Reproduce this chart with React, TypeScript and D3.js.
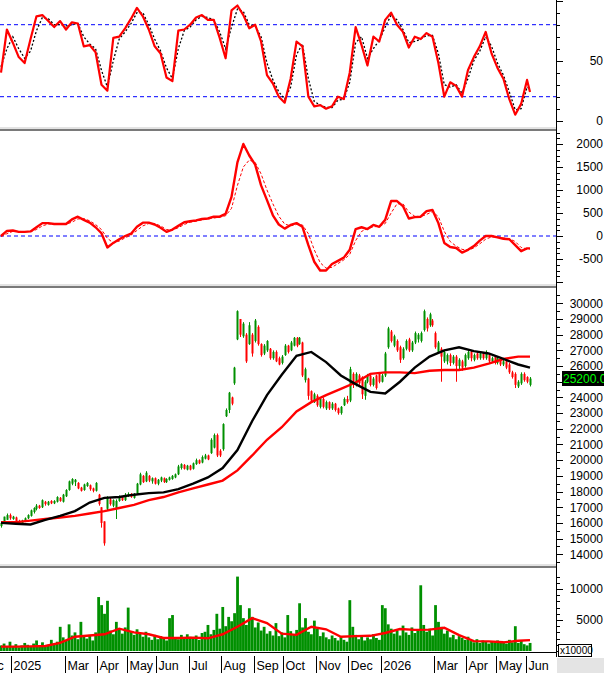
import * as d3 from 'd3'
import React from 'react'

// daily bars (every bar ~ 2 sessions), Dec 2024 .. Jun 2026
const opens = [
  15800, 16050, 16200, 16500, 16250, 16350, 16100, 15950, 16100, 16300,
  16450, 16700, 16900, 17100, 17000, 17350, 17150, 17400, 17250, 17350,
  17600, 17350, 17700, 18100, 18500, 18600, 18550, 18250, 18100, 18350,
  18400, 18200, 18050, 17800, 17000, 16100, 16900, 17500, 17100, 16900,
  17400, 17650, 17450, 17700, 17850, 17600, 17900, 18450, 19000, 18650,
  19000, 18650, 18850, 18500, 18700, 18850, 18600, 18750, 18800, 18900,
  19100, 19500, 19700, 19400, 19650, 19450, 19750, 20000, 19850, 20100,
  20300, 20450, 20800, 21600, 20600, 20700, 22800, 23200, 24000, 24900,
  27700, 29000, 27900, 28000, 27400, 28000, 27600, 28500, 27400, 26800,
  27000, 27100, 26500, 26900, 26500, 26200, 26700, 27300, 27000, 27300,
  27800, 27400, 27500, 25100, 25200, 24400, 23700, 24100, 23400, 23900,
  23300, 23700, 23300, 23600, 23300, 23000, 23500, 23900, 23800, 25500,
  24800, 25400, 25300, 24100, 25000, 25400, 24800, 25400, 25500, 25000,
  25400, 27200, 28200, 27300, 27600, 27200, 26500, 27100, 27700, 27000,
  27500, 27700, 27600, 28300, 29000, 28600, 28900, 28100, 26900, 27100,
  26300, 26300, 26700, 26200, 26600, 26000, 26300, 26000, 26500, 26900,
  26400, 26800, 26500, 26800, 26500, 26700, 26300, 26600, 26200, 26400,
  26100, 26300, 26100, 25600, 25500, 24700, 24900, 25500, 25300, 24800,
]
const closes = [
  16000, 16400, 16500, 16300, 16400, 16100, 15950, 16150, 16300, 16500,
  16800, 16950, 17100, 16950, 17450, 17200, 17350, 17250, 17400, 17650,
  17400, 17800, 18100, 18650, 18800, 18750, 18200, 18050, 18450, 18550,
  18150, 18050, 18550, 17200, 16000, 14700, 17600, 17200, 17450, 17400,
  17700, 17450, 17800, 17850, 17650, 17800, 18500, 19100, 18600, 19200,
  18700, 18850, 18500, 18750, 18900, 18600, 18800, 18900, 19000, 19100,
  19600, 19750, 19450, 19650, 19400, 19800, 20000, 19800, 20200, 20300,
  20050, 21300, 21600, 20300, 20300, 22300, 23200, 24300, 23600, 25900,
  29500, 28000, 28700, 26300, 28600, 26800, 28900, 27400, 26700, 27300,
  27600, 26500, 26900, 26300, 26100, 26600, 27300, 26900, 27500, 27800,
  27300, 27800, 25400, 25800, 24100, 23800, 24200, 23500, 23900, 23400,
  23700, 23300, 23600, 23200, 23000, 23400, 23900, 23700, 25800, 24800,
  25500, 24900, 24200, 25000, 25400, 24800, 25200, 24600, 25000, 25400,
  26800, 28400, 27600, 27900, 27000, 26400, 27100, 27600, 27000, 27500,
  28100, 28000, 28100, 29500, 28400, 29300, 28600, 27200, 27500, 26600,
  26900, 26700, 26200, 26600, 26000, 26400, 25900, 26700, 26900, 26500,
  26700, 26500, 26800, 26500, 26900, 26300, 26500, 26200, 26500, 26100,
  26300, 25900, 25600, 25300, 24800, 25000, 25500, 25100, 25000, 25200,
]
const highs = [
  16000, 16400, 16600, 16600, 16450, 16400, 16200, 16200, 16350, 16550,
  16850, 17000, 17200, 17150, 17500, 17400, 17400, 17450, 17450, 17700,
  17650, 17850, 18150, 18700, 18850, 18800, 18600, 18300, 18500, 18600,
  18450, 18250, 18600, 17850, 17000, 16100, 17700, 17600, 17500, 17500,
  17750, 17700, 17900, 17950, 17900, 17900, 18550, 19200, 19050, 19300,
  19050, 18900, 18900, 18800, 18950, 18900, 18850, 18950, 19050, 19150,
  19700, 19800, 19750, 19700, 19700, 19850, 20100, 20050, 20300, 20400,
  20350, 21400, 21700, 21700, 20700, 22350, 23300, 24350, 24050, 25950,
  29550, 29000, 28800, 28100, 28800, 28100, 29000, 28600, 27450, 27400,
  27650, 27150, 27000, 27000, 26600, 26700, 27400, 27350, 27600, 27850,
  27850, 27850, 27550, 25900, 25250, 24450, 24300, 24200, 24000, 24000,
  23800, 23750, 23700, 23650, 23350, 23450, 24000, 24100, 25950, 25600,
  25600, 25500, 25350, 25100, 25500, 25450, 25300, 25450, 25600, 25500,
  26900, 28500, 28300, 28000, 27700, 27300, 27200, 27700, 27800, 27600,
  28200, 28100, 28200, 29600, 29100, 29400, 29000, 28200, 27600, 27200,
  27000, 26800, 26800, 26700, 26700, 26500, 26400, 26800, 27000, 27000,
  26800, 26900, 26900, 26900, 27000, 26800, 26600, 26700, 26600, 26500,
  26400, 26400, 26200, 25700, 25600, 25100, 25600, 25600, 25350, 25300,
]
const lows = [
  15700, 16000, 16200, 16200, 16200, 16050, 15900, 15900, 16050, 16250,
  16400, 16600, 16800, 16900, 16950, 17100, 17100, 17200, 17200, 17300,
  17350, 17300, 17650, 18050, 18400, 18350, 18150, 18000, 18050, 18300,
  18050, 17950, 18000, 17100, 15700, 14550, 16800, 17100, 17000, 16250,
  17350, 17400, 17400, 17650, 17600, 17550, 17850, 18400, 18550, 18600,
  18600, 18500, 18450, 18400, 18600, 18550, 18550, 18700, 18750, 18850,
  19050, 19400, 19400, 19350, 19350, 19400, 19700, 19750, 19800, 20050,
  20000, 20400, 20750, 20200, 20200, 20600, 22750, 23000, 23500, 24800,
  27650, 27850, 27800, 26200, 27350, 26600, 27500, 27300, 26600, 26700,
  26900, 26400, 26400, 26250, 26050, 26100, 26650, 26800, 26950, 27250,
  27200, 27350, 25300, 24950, 23850, 23650, 23650, 23400, 23300, 23300,
  23200, 23200, 23200, 23100, 22900, 22900, 23450, 23600, 23700, 24600,
  24700, 24800, 23900, 23850, 24900, 24700, 24700, 24500, 24900, 24950,
  25300, 27100, 27500, 27200, 26900, 26200, 26400, 27000, 26900, 26900,
  27400, 27500, 27500, 28200, 28200, 28500, 28500, 27100, 26900, 25000,
  26200, 26100, 26000, 26100, 25000, 25800, 25700, 25900, 26400, 26300,
  26300, 26400, 26400, 26400, 26400, 26200, 26200, 26100, 26100, 26000,
  26000, 25800, 25500, 25200, 24600, 24600, 24800, 25000, 24900, 24700,
]
// volume, x10000
const volumes = [
  900, 1200, 700, 1500, 800, 1100, 600, 900, 1300, 1000,
  800, 1200, 1700, 900, 1400, 700, 1000, 1800, 1100, 1500,
  3900, 2200, 1800, 4300, 2500, 3000, 1900, 4700, 2400, 2000,
  2600, 1700, 3000, 8700, 7400, 6000, 8100, 3300, 2700, 4700,
  3500, 2800, 3800, 7000, 3200, 2600, 3500, 2900, 2300, 3100,
  2200, 1800, 2600, 1900, 2400, 2100, 1700, 5300, 5800, 2200,
  1900, 2600, 2000, 2700, 2300, 2000, 2500, 1800, 2900, 3100,
  4200, 2700, 3400, 6000, 3600, 7100, 4000, 5500, 4800, 6100,
  12000, 7400, 5300, 4200, 6900, 5500, 3800, 4600, 3300, 3900,
  2800, 3200, 2500, 4500, 2400, 3000, 2200, 5800, 3200, 2600,
  3400, 7700, 3800, 5300, 3100, 2700, 4900, 3600, 2400, 3000,
  2200, 1900, 2500, 2100, 1700, 2300, 1800, 1500, 8200, 3900,
  2600, 1900, 2400, 1700, 2200, 1900, 2700, 2100, 1800, 7400,
  6900, 4300, 3600, 2800, 3300, 2500, 4100, 3000, 2600, 3800,
  2900, 3400, 10600, 4200, 3100, 3600, 2500, 7400, 4700, 3900,
  2800, 3300, 2200, 2600, 1900, 2400, 2100, 1800, 2300, 1600,
  1400, 1900, 1300, 1700, 1500, 1200, 1600, 1400, 1700, 1300,
  1500, 1200, 1800, 1400, 4000, 1300, 1700, 1100, 900, 1300,
]

// moving averages, one value every 5 bars + last bar
const maFast = [
  16000, 15950, 15900, 16200, 16450, 16750, 17300, 17600, 17650, 17800,
  17900, 17950, 18150, 18500, 18900, 19500, 20650, 22500, 24150, 25450,
  26650, 26900, 26250, 25400, 24850, 24350, 24250, 25000, 25900, 26600,
  27000, 27200, 26950, 26800, 26450, 26100, 25900,
]
const maSlow = [
  16050, 16050, 16150, 16250, 16350, 16450, 16600, 16750, 16950, 17150,
  17450, 17650, 17950, 18200, 18450, 18700, 19350, 20300, 21300, 22100,
  23100, 23700, 24150, 24550, 24950, 25500, 25600, 25600, 25550, 25700,
  25750, 25750, 25900, 26150, 26450, 26600, 26600,
]
const volMa = [
  700, 700, 750, 800, 1300, 2300, 2500, 2700, 3600, 3000,
  2700, 2100, 2100, 2150, 2050, 2700, 3900, 5300, 4500, 2800,
  2600, 3900, 3500, 2300, 2400, 2450, 2900, 3550, 3400, 3450,
  3750, 2550, 1600, 1550, 1400, 1650, 1750,
]

// oscillators, one value every 2 bars + last bar
const stochK = [
  40, 76, 65, 53, 48, 68, 87, 88, 83, 78,
  83, 76, 82, 81, 62, 63, 57, 30, 25, 69,
  70, 77, 85, 94, 87, 76, 62, 56, 36, 33,
  75, 76, 80, 86, 88, 84, 84, 69, 52, 92,
  96, 88, 77, 80, 66, 38, 31, 20, 15, 35,
  66, 62, 20, 12, 13, 10, 12, 20, 18, 40,
  78, 63, 46, 70, 66, 84, 90, 80, 74, 61,
  70, 68, 73, 70, 48, 20, 32, 29, 20, 42,
  53, 62, 74, 56, 44, 35, 18, 5, 14, 34,
  24,
]
const stochD = [
  45, 60, 70, 60, 52, 58, 75, 86, 85, 80,
  80, 79, 80, 81, 70, 64, 60, 42, 28, 50,
  68, 74, 81, 90, 90, 80, 68, 58, 44, 35,
  60, 75, 78, 84, 87, 86, 84, 74, 60, 78,
  93, 91, 80, 79, 70, 48, 34, 24, 18, 28,
  55, 64, 35, 16, 13, 11, 11, 17, 18, 32,
  65, 70, 52, 60, 67, 78, 88, 84, 76, 65,
  66, 68, 71, 71, 56, 30, 28, 30, 23, 35,
  50, 58, 70, 62, 48, 38, 24, 9, 10, 28,
  27,
]
const macd = [
  0, 110, 120, 90, 90, 100, 190, 280, 280, 260,
  260, 260, 360, 420, 350, 290, 190, 60, -250, -150,
  -70, 0, 50, 200, 290, 290, 250, 180, 90, 140,
  220, 300, 320, 340, 370, 380, 420, 420, 480, 850,
  1600, 2000, 1750, 1550, 1100, 780, 450, 250, 160, 240,
  280, 200, -200, -560, -750, -750, -610, -540, -470, -300,
  150, 190, 150, 240, 200, 350, 760, 760, 650, 380,
  410, 420, 540, 565, 280, -150, -240, -260, -360, -300,
  -220, -100, 0, 0, -30, -60, -70, -200, -330, -270,
  -270,
]
const macdSignal = [
  -10, 50, 100, 100, 95, 95, 140, 220, 260, 265,
  260, 255, 300, 370, 380, 330, 250, 140, -50, -150,
  -110, -40, 20, 120, 220, 270, 270, 220, 140, 130,
  180, 250, 300, 320, 350, 370, 390, 410, 440, 600,
  1100, 1500, 1650, 1600, 1350, 1000, 700, 430, 260, 220,
  250, 240, 50, -300, -580, -700, -680, -600, -520, -400,
  -100, 100, 160, 200, 210, 270, 500, 700, 700, 520,
  430, 420, 470, 530, 420, 100, -120, -220, -290, -310,
  -260, -170, -70, -20, -20, -40, -60, -120, -250, -280,
  -280,
]

// month labels and the bar where each month starts
const monthLabels = ['Dec', '2025', 'Mar', 'Apr', 'May', 'Jun', 'Jul', 'Aug', 'Sep', 'Oct', 'Nov', 'Dec', '2026', 'Mar', 'Apr', 'May', 'Jun']
const monthStarts = [-7, 4, 22, 33, 43, 53, 64, 75, 86, 96, 107, 118, 129, 147, 158, 168, 178]

// price labels on the right axis (25000 sits under the last-price box)
const priceLabels = [14000, 15000, 16000, 17000, 18000, 19000, 20000, 21000, 22000, 23000, 24000, 26000, 27000, 28000, 29000, 30000]
const lastPrice = '25200.00'

const W = 604
const H = 673
const PR = 556
const FONT = '"Liberation Sans", Arial, sans-serif'
const GREEN = '#009000'
const RED = '#ff0000'

export default function App() {
  const n = closes.length
  const x = d3.scaleLinear().domain([0, n - 1]).range([1, 530])

  const stochY = d3.scaleLinear().domain([0, 100]).range([120.7, 0.7])
  const macdY = d3.scaleLinear().domain([0, 2000]).range([236, 144])
  const priceY = d3.scaleLinear().domain([14000, 30000]).range([554.3, 303.3])
  const volY = d3.scaleLinear().domain([0, 10000]).range([651, 589])

  const idx2 = (k: number, len: number) => (k === len - 1 ? n - 1 : k * 2)
  const idx5 = (k: number, len: number) => (k === len - 1 ? n - 1 : k * 5)

  const path = (vals: number[], idx: (k: number, len: number) => number, y: d3.ScaleLinear<number, number>) =>
    d3
      .line<number>()
      .x((_, k) => x(idx(k, vals.length)))
      .y(v => y(v))(vals) || ''

  const ticks = (y: d3.ScaleLinear<number, number>, lo: number, hi: number, step: number, major: number, labelSet: number[], size: number) => {
    const out: React.ReactNode[] = []
    for (let v = lo; v <= hi + 1e-6; v += step) {
      const isMajor = Math.abs(v % major) < 1e-6
      out.push(<line key={'t' + v} x1={PR} x2={PR + (isMajor ? 7 : 4)} y1={Math.round(y(v)) + 0.5} y2={Math.round(y(v)) + 0.5} stroke="#000" />)
      if (labelSet.includes(v)) {
        out.push(
          <text key={'l' + v} x={603} y={y(v) + size * 0.36} textAnchor="end" fontSize={size} fontFamily={FONT} fill="#000">
            {v}
          </text>,
        )
      }
    }
    return out
  }

  const separator = (y: number, key: string) => (
    <g key={key}>
      <rect x={0} y={y - 1.5} width={PR} height={1} fill="#c8c8c8" />
      <rect x={0} y={y} width={PR} height={2} fill="#7a7a7a" />
    </g>
  )

  const bw = 2
  const barX = (i: number) => Math.round(x(i))

  return (
    <div style={{ position: 'absolute', left: 0, top: 0 }}>
      <svg width={W} height={H} viewBox={`0 0 ${W} ${H}`} style={{ display: 'block', background: '#fff' }}>
        <defs>
          <clipPath id="plot">
            <rect x={0} y={0} width={PR} height={653} />
          </clipPath>
        </defs>
        <rect x={0} y={0} width={W} height={H} fill="#fff" />

        {/* stochastic */}
        <g clipPath="url(#plot)">
          <line x1={0} x2={PR} y1={stochY(80)} y2={stochY(80)} stroke="#0000ff" strokeDasharray="4 3" />
          <line x1={0} x2={PR} y1={stochY(20)} y2={stochY(20)} stroke="#0000ff" strokeDasharray="4 3" />
          <path d={path(stochD, idx2, stochY)} fill="none" stroke="#000" strokeWidth={1.3} strokeDasharray="2 2" />
          <path d={path(stochK, idx2, stochY)} fill="none" stroke={RED} strokeWidth={2.2} strokeLinejoin="round" />
        </g>

        {/* macd */}
        <g clipPath="url(#plot)">
          <line x1={0} x2={PR} y1={macdY(0)} y2={macdY(0)} stroke="#0000ff" strokeDasharray="4 3" />
          <path d={path(macdSignal, idx2, macdY)} fill="none" stroke={RED} strokeWidth={1} strokeDasharray="3 2" />
          <path d={path(macd, idx2, macdY)} fill="none" stroke={RED} strokeWidth={2.4} strokeLinejoin="round" />
        </g>

        {/* price */}
        <g clipPath="url(#plot)">
          {closes.map((c, i) => {
            const o = opens[i]
            const col = c >= o ? GREEN : RED
            const top = priceY(Math.max(o, c))
            const bot = priceY(Math.min(o, c))
            return (
              <g key={i}>
                <line x1={barX(i) + 0.5} x2={barX(i) + 0.5} y1={priceY(highs[i])} y2={priceY(lows[i])} stroke={col} />
                <rect x={barX(i) - bw / 2 + 0.5} y={top} width={bw} height={Math.max(1, bot - top)} fill={col} />
              </g>
            )
          })}
          <path d={path(maSlow, idx5, priceY)} fill="none" stroke={RED} strokeWidth={2.4} />
          <path d={path(maFast, idx5, priceY)} fill="none" stroke="#000" strokeWidth={2.4} />
        </g>

        {/* volume */}
        <g clipPath="url(#plot)">
          {volumes.map((v, i) => (
            <rect key={i} x={x(i) - 1.3} y={volY(v)} width={2.8} height={volY(0) - volY(v)} fill={GREEN} />
          ))}
          <path d={path(volMa, idx5, volY)} fill="none" stroke={RED} strokeWidth={2.4} />
        </g>

        {/* panel separators */}
        {separator(129, 's1')}
        {separator(286, 's2')}
        {separator(566, 's3')}

        {/* right axis */}
        <line x1={PR + 0.5} x2={PR + 0.5} y1={0} y2={657} stroke="#000" />
        {ticks(stochY, 0, 100, 10, 50, [0, 50], 12)}
        {ticks(macdY, -1000, 2250, 125, 500, [-500, 0, 500, 1000, 1500, 2000], 12)}
        {ticks(priceY, 13500, 30500, 500, 1000, priceLabels, 12)}
        {ticks(volY, 0, 12000, 1000, 5000, [5000, 10000], 12)}

        {/* last price box */}
        <rect x={562} y={371} width={42} height={15} fill="#000" />
        <text x={563} y={383} fontSize={12} fontFamily={FONT} fill="#00ff00">
          {lastPrice}
        </text>

        {/* volume unit box */}
        <rect x={558.5} y={644.5} width={33} height={12} fill="#fff" stroke="#000" />
        <text x={560} y={654} fontSize={10} fontFamily={FONT} fill="#000">
          x10000
        </text>

        {/* time axis */}
        <line x1={0} x2={PR} y1={652.5} y2={652.5} stroke="#000" />
        <rect x={PR + 1} y={658} width={W - PR - 1} height={H - 658} fill="#e4e4e4" />
        {monthStarts.map((m, k) => {
          const sx = Math.round(x(m - 0.5)) + 0.5
          return (
            <g key={k}>
              <line x1={sx} x2={sx} y1={656} y2={H} stroke="#000" />
              <text x={sx + 2} y={670} fontSize={12.5} fontFamily={FONT} fill="#000">
                {monthLabels[k]}
              </text>
            </g>
          )
        })}
      </svg>
    </div>
  )
}
